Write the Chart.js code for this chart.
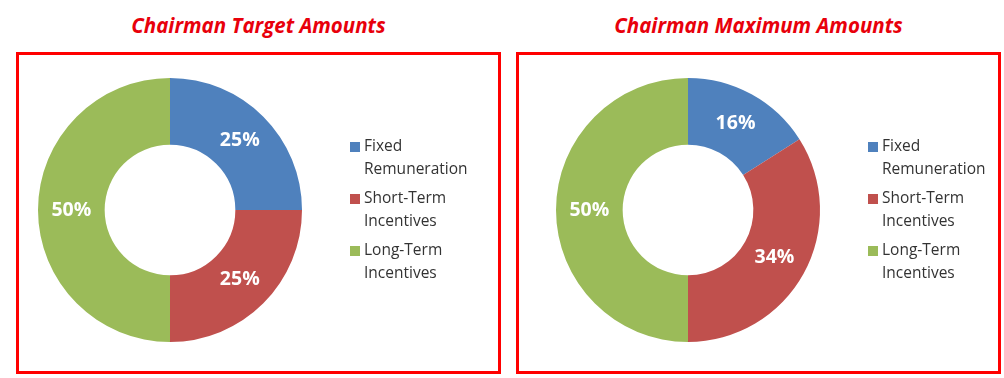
<!DOCTYPE html>
<html>
<head>
<meta charset="utf-8">
<script src="https://cdn.jsdelivr.net/npm/chart.js@4"></script>
<style>
  body { margin: 0; background: #fff; width: 1004px; height: 378px; position: relative; overflow: hidden; }
  .title {
    position: absolute; top: 8px; width: 485px; text-align: center;
    font-family: "Open Sans", sans-serif; font-weight: bold; font-style: italic;
    font-size: 20.5px; color: #e8000b; line-height: 34px;
  }
  .box {
    position: absolute; top: 52px; width: 479px; height: 316px;
    border: 3px solid #f00;
  }
  .box canvas { position: absolute; left: 0; top: 0; }
</style>
</head>
<body>
<div class="title" style="left:16px">Chairman Target Amounts</div>
<div class="box" style="left:16px"><canvas id="target-chart" width="479" height="316"></canvas></div>
<div class="title" style="left:516px">Chairman Maximum Amounts</div>
<div class="box" style="left:516px"><canvas id="max-chart" width="479" height="316"></canvas></div>
<script>
// --- chart data ---
const categories = [['Fixed', 'Remuneration'], ['Short-Term', 'Incentives'], ['Long-Term', 'Incentives']];
const targetValues = [25, 25, 50];
const maximumValues = [16, 34, 50];
const sliceColors = ['#4F81BD', '#C0504D', '#9BBB59'];

// legend drawn to the right of the doughnut, two lines per item
const sideLegend = {
  id: 'sideLegend',
  afterDraw(chart) {
    const ctx = chart.ctx;
    const arc = chart.getDatasetMeta(0).data[0];
    const cx = arc.x, cy = arc.y;
    ctx.save();
    ctx.font = '15.5px "Open Sans"';
    ctx.textBaseline = 'middle';
    let y = cy - 63;
    categories.forEach((lines, i) => {
      ctx.fillStyle = sliceColors[i];
      ctx.fillRect(cx + 180, y - 5, 10, 10);
      ctx.fillStyle = '#333';
      lines.forEach((t, j) => ctx.fillText(t, cx + 194, y + j * 23));
      y += 52;
    });
    ctx.restore();
  }
};

// percentage labels in the middle of each slice
const sliceLabels = {
  id: 'sliceLabels',
  afterDatasetsDraw(chart) {
    const ctx = chart.ctx;
    const values = chart.data.datasets[0].data;
    ctx.save();
    ctx.font = 'bold 19.5px "Open Sans"';
    ctx.fillStyle = '#fff';
    ctx.textAlign = 'center';
    ctx.textBaseline = 'middle';
    chart.getDatasetMeta(0).data.forEach((el, i) => {
      const p = el.tooltipPosition();
      ctx.fillText(values[i] + '%', p.x, p.y);
    });
    ctx.restore();
  }
};

function makeDoughnut(id, values, padLeft) {
  return new Chart(document.getElementById(id), {
    type: 'doughnut',
    data: {
      labels: categories.map(c => c.join(' ')),
      datasets: [{
        data: values,
        backgroundColor: sliceColors,
        borderWidth: 0
      }]
    },
    options: {
      responsive: false,
      animation: false,
      cutout: '49.5%',
      layout: { padding: { left: padLeft, top: 23, right: 479 - padLeft - 264, bottom: 29 } },
      plugins: { legend: { display: false }, tooltip: { enabled: false } }
    },
    plugins: [sliceLabels, sideLegend]
  });
}

makeDoughnut('target-chart', targetValues, 19);
makeDoughnut('max-chart', maximumValues, 37);
</script>
</body>
</html>
